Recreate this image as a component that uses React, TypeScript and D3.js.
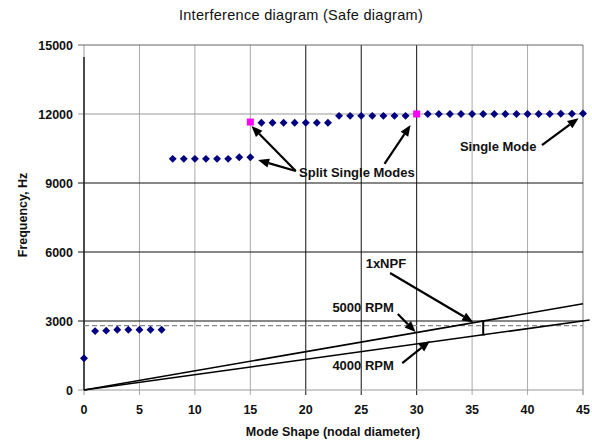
import React from "react";
import * as d3 from "d3";

const xTicks = [0, 5, 10, 15, 20, 25, 30, 35, 40, 45];
const yTicks = [0, 3000, 6000, 9000, 12000, 15000];

// Blue diamond points: mode shape (nodal diameter) and frequency (Hz)
const lowND = [0, 1, 2, 3, 4, 5, 6, 7];
const lowHz = [1380, 2560, 2580, 2620, 2620, 2620, 2620, 2620];
const midND = [8, 9, 10, 11, 12, 13, 14, 15];
const midHz = [10050, 10050, 10050, 10050, 10050, 10050, 10120, 10120];
const upND = [16, 17, 18, 19, 20, 21, 22];
const upHz = [11620, 11620, 11620, 11620, 11620, 11620, 11620];
const up2ND = [23, 24, 25, 26, 27, 28, 29];
const up2Hz = [11920, 11920, 11920, 11920, 11920, 11920, 11920];
const topND = [31, 32, 33, 34, 35, 36, 37, 38, 39, 40, 41, 42, 43, 44, 45];
const topHz = [12000, 12000, 12000, 12000, 12000, 12000, 12000, 12000, 12000, 12000, 12000, 12000, 12010, 12010, 12020];

// Magenta (single-mode) points
const magND = [15, 30];
const magHz = [11650, 12000];

// Engine-order lines
const line5000ND = [0, 45];
const line5000Hz = [0, 3750];
const line4000ND = [0, 45.6];
const line4000Hz = [0, 3040];

// dashed reference level
const dashedHz = 2800;
const dashedND = [0, 45];

// NPF bar
const barND = 36;
const barHz = [2400, 3000];

export default function App() {
  const W = 592, H = 440;
  const x = d3.scaleLinear().domain([0, 45]).range([84, 583]);
  const y = d3.scaleLinear().domain([0, 15000]).range([390, 45]);

  const vGridColor = (t: number) => (t === 20 || t === 25 || t === 30 ? "#111" : "#aaa");
  const hGridColor = (t: number) =>
    t === 15000 ? "#666" : t === 12000 ? "#999" : t === 0 ? "#999" : "#111";

  const pts = (nds: number[], hz: number[]) => nds.map((n, i) => [n, hz[i]] as [number, number]);
  const bluePts = [
    ...pts(lowND, lowHz),
    ...pts(midND, midHz),
    ...pts(upND, upHz),
    ...pts(up2ND, up2Hz),
    ...pts(topND, topHz),
  ];
  const magPts = pts(magND, magHz);

  const line = d3
    .line<[number, number]>()
    .x((d) => x(d[0]))
    .y((d) => y(d[1]));

  const font = "'Liberation Sans', Arial, sans-serif";

  const arrows: { from: [number, number]; to: [number, number] }[] = [
    { from: [27.6, 5090], to: [35.1, 2950] },
    { from: [28.3, 3300], to: [29.9, 2520] },
    { from: [28.7, 1170], to: [31.2, 2130] },
    { from: [19.1, 9520], to: [15.1, 11480] },
    { from: [19.1, 9520], to: [15.7, 10000] },
    { from: [27.1, 9830], to: [29.45, 11520] },
    { from: [41.3, 10650], to: [44.6, 11820] },
  ];
  const labels: { text: string; nd: number; hz: number }[] = [
    { text: "1xNPF", nd: 25.4, hz: 5300 },
    { text: "5000 RPM", nd: 22.4, hz: 3370 },
    { text: "4000 RPM", nd: 22.4, hz: 890 },
    { text: "Split Single Modes", nd: 19.4, hz: 9240 },
    { text: "Single Mode", nd: 33.9, hz: 10410 },
  ];

  const arrowPath = (a: { from: [number, number]; to: [number, number] }) => {
    const x1 = x(a.from[0]), y1 = y(a.from[1]);
    const x2 = x(a.to[0]), y2 = y(a.to[1]);
    const ang = Math.atan2(y2 - y1, x2 - x1);
    const L = 11, Wd = 4.5;
    const bx = x2 - L * Math.cos(ang), by = y2 - L * Math.sin(ang);
    const head = `M${x2},${y2}L${bx + Wd * Math.sin(ang)},${by - Wd * Math.cos(ang)}L${bx - Wd * Math.sin(ang)},${by + Wd * Math.cos(ang)}Z`;
    return { x1, y1, bx, by, head };
  };

  return (
    <svg
      width={W}
      height={H}
      style={{ position: "absolute", left: 0, top: 0, background: "#fff" }}
      fontFamily={font}
    >
      <rect width={W} height={H} fill="#fff" />
      <text x={301} y={20} textAnchor="middle" fontSize={14.5} fill="#111" letterSpacing={0.3}>
        Interference diagram (Safe diagram)
      </text>

      {/* grid */}
      {xTicks.map((t) => (
        <line
          key={"vx" + t}
          x1={x(t)}
          x2={x(t)}
          y1={y(15000)}
          y2={y(0) + 5}
          stroke={t === 0 ? "#999" : vGridColor(t)}
          strokeWidth={t === 45 ? 1.6 : 1}
        />
      ))}
      {yTicks.map((t) => (
        <line
          key={"hy" + t}
          x1={x(0) - 6}
          x2={x(45)}
          y1={y(t)}
          y2={y(t)}
          stroke={hGridColor(t)}
          strokeWidth={1}
        />
      ))}
      {/* left axis dark line */}
      <line x1={x(0)} x2={x(0)} y1={57} y2={y(0)} stroke="#222" strokeWidth={1.5} />

      {/* tick labels */}
      {yTicks.map((t) => (
        <text
          key={"yl" + t}
          x={73}
          y={y(t) + 4.5}
          textAnchor="end"
          fontSize={12.5}
          fontWeight="bold"
          fill="#111"
        >
          {t}
        </text>
      ))}
      {xTicks.map((t) => (
        <text
          key={"xl" + t}
          x={x(t)}
          y={414}
          textAnchor="middle"
          fontSize={12.5}
          fontWeight="bold"
          fill="#111"
        >
          {t}
        </text>
      ))}
      <text x={333} y={436} textAnchor="middle" fontSize={12.5} fontWeight="bold" fill="#111">
        Mode Shape (nodal diameter)
      </text>
      <text
        transform={`translate(27,215) rotate(-90)`}
        textAnchor="middle"
        fontSize={12.5}
        fontWeight="bold"
        fill="#111"
      >
        Frequency, Hz
      </text>

      {/* dashed level */}
      <line
        x1={x(dashedND[0])}
        x2={x(dashedND[1])}
        y1={y(dashedHz)}
        y2={y(dashedHz)}
        stroke="#888"
        strokeWidth={1.2}
        strokeDasharray="5,3"
      />

      {/* engine order lines */}
      <path d={line(pts(line5000ND, line5000Hz))!} stroke="#000" strokeWidth={1.5} fill="none" />
      <path d={line(pts(line4000ND, line4000Hz))!} stroke="#000" strokeWidth={1.5} fill="none" />

      {/* NPF bar */}
      <line x1={x(barND)} x2={x(barND)} y1={y(barHz[0])} y2={y(barHz[1])} stroke="#000" strokeWidth={2} />
      <line x1={x(barND) - 2} x2={x(barND) + 2} y1={y(barHz[1])} y2={y(barHz[1])} stroke="#000" strokeWidth={1.2} />
      <line x1={x(barND) - 2} x2={x(barND) + 2} y1={y(barHz[0])} y2={y(barHz[0])} stroke="#000" strokeWidth={1.2} />

      {/* points */}
      {bluePts.map((p, i) => (
        <path
          key={"b" + i}
          d={d3.symbol(d3.symbolDiamond2, 40)()!}
          transform={`translate(${x(p[0])},${y(p[1])})`}
          fill="#000080"
        />
      ))}
      {magPts.map((p, i) => (
        <rect key={"m" + i} x={x(p[0]) - 3.5} y={y(p[1]) - 3.5} width={7} height={7} fill="#ff00ff" />
      ))}

      {/* arrows */}
      {arrows.map((a, i) => {
        const g = arrowPath(a);
        return (
          <g key={"a" + i}>
            <line x1={g.x1} y1={g.y1} x2={g.bx} y2={g.by} stroke="#000" strokeWidth={2.2} />
            <path d={g.head} fill="#000" />
          </g>
        );
      })}

      {/* annotation labels */}
      {labels.map((l, i) => (
        <text key={"l" + i} x={x(l.nd)} y={y(l.hz)} fontSize={13} fontWeight="bold" fill="#111">
          {l.text}
        </text>
      ))}
    </svg>
  );
}
